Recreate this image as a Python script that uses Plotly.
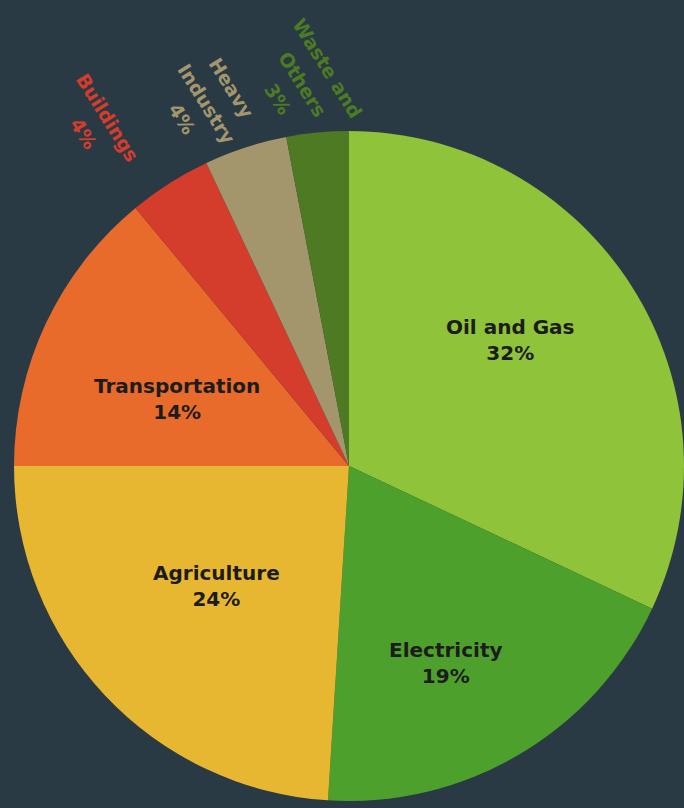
import math
import plotly.graph_objects as go

# Emissions share by sector, clockwise from 12 o'clock
sectors = ["Oil and Gas", "Electricity", "Agriculture", "Transportation",
           "Buildings", "Heavy Industry", "Waste and Others"]
shares = [32, 19, 24, 14, 4, 4, 3]
colors = ["#8ec33a", "#4ea02d", "#e8b732", "#e86b2c", "#d43c2b", "#a3966c", "#4d7a22"]

# label lines per sector
label_lines = {
    "Oil and Gas": ["Oil and Gas"],
    "Electricity": ["Electricity"],
    "Agriculture": ["Agriculture"],
    "Transportation": ["Transportation"],
    "Buildings": ["Buildings"],
    "Heavy Industry": ["Heavy", "Industry"],
    "Waste and Others": ["Waste and", "Others"],
}

# label placement: (distance from centre as a fraction of the radius,
#                   angular shift from the slice's mid-angle in degrees)
inside_place = {
    "Oil and Gas": (0.61, -5.5),
    "Electricity": (0.655, 4.5),
    "Agriculture": (0.533, 0.9),
    "Transportation": (0.55, -3.9),
}
outside_place = {
    "Buildings": (1.267, -4.2),
    "Heavy Industry": (1.162, -3.4),
    "Waste and Others": (1.15, -1.5),
}
OUTSIDE_ANGLE = 58      # rotation of the outside labels (deg, clockwise)
OUTSIDE_LINE_PX = 29    # distance between outside label lines
PLOT_PX = 670           # side of the square plot area

BG = "#2a3a45"
FONT = "DejaVu Sans"

fig = go.Figure(go.Pie(
    labels=sectors,
    values=shares,
    textinfo="none",
    sort=False,
    direction="clockwise",
    rotation=0,
    marker=dict(colors=colors, line=dict(width=0)),
    hoverinfo="label+percent",
    showlegend=False,
    domain=dict(x=[0, 1], y=[0, 1]),
))


def polar_to_paper(frac, deg):
    t = math.radians(deg)
    return 0.5 + 0.5 * frac * math.sin(t), 0.5 + 0.5 * frac * math.cos(t)


total = sum(shares)
cum = 0.0
annotations = []
for s, v, c in zip(sectors, shares, colors):
    mid = (cum + v / 2) / total * 360.0  # degrees clockwise from top
    cum += v
    lines = label_lines[s] + [f"{v}%"]
    if s in inside_place:
        frac, shift = inside_place[s]
        x, y = polar_to_paper(frac, mid + shift)
        annotations.append(dict(
            x=x, y=y, xref="paper", yref="paper",
            text="<b>" + "<br>".join(lines) + "</b>", showarrow=False,
            font=dict(family=FONT, size=20, color="#1c1c1c"),
            xanchor="center", yanchor="middle", align="center",
        ))
    else:
        frac, shift = outside_place[s]
        cx, cy = polar_to_paper(frac, mid + shift)
        a = math.radians(OUTSIDE_ANGLE)
        # direction from one line to the next, in paper units (y up)
        nx, ny = -math.sin(a), -math.cos(a)
        n = len(lines)
        for i, line in enumerate(lines):
            k = (i - (n - 1) / 2) * OUTSIDE_LINE_PX / PLOT_PX
            annotations.append(dict(
                x=cx + k * nx, y=cy + k * ny, xref="paper", yref="paper",
                text=f"<b>{line}</b>", showarrow=False,
                textangle=OUTSIDE_ANGLE,
                font=dict(family=FONT, size=19, color=c),
                xanchor="center", yanchor="middle",
            ))

fig.update_layout(
    width=684, height=808,
    margin=dict(l=14, r=0, t=131, b=7),
    paper_bgcolor=BG, plot_bgcolor=BG,
    annotations=annotations,
)

fig.write_html("out.html")
